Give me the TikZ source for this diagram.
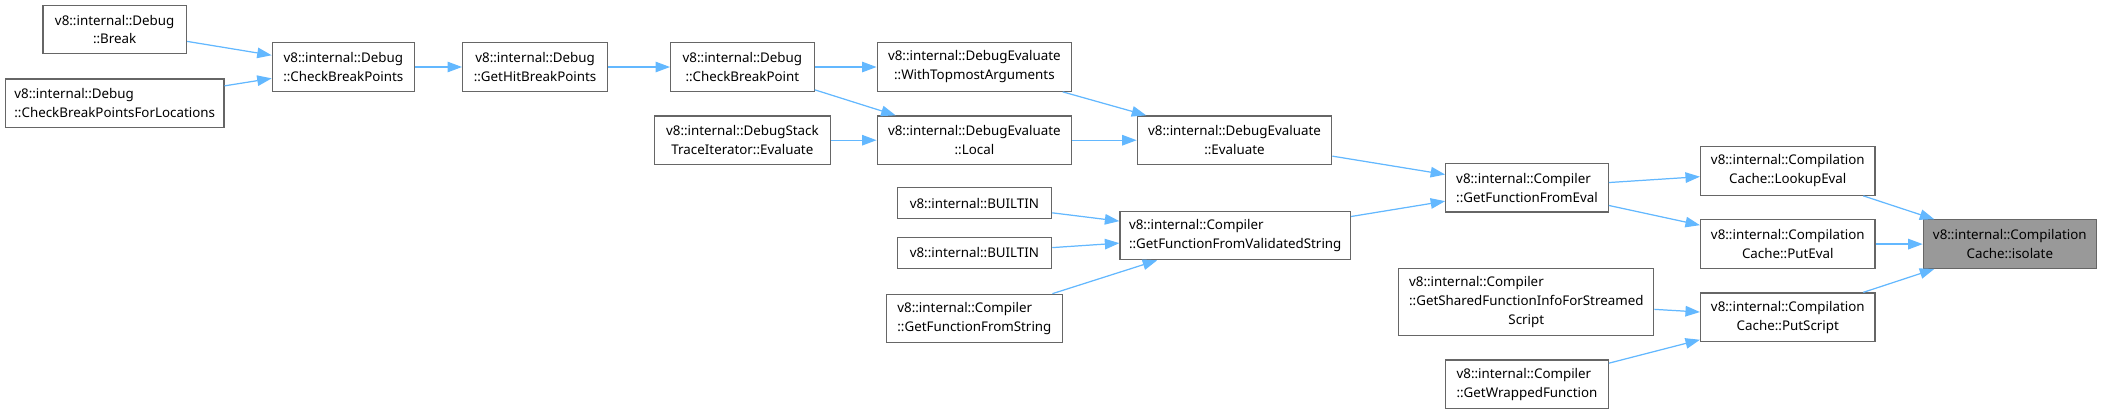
\documentclass[tikz,border=0pt]{standalone}
\usepackage{fontspec}
\setmainfont{Noto Sans}
\usepackage{xcolor}
\usetikzlibrary{arrows.meta}
\definecolor{edgeblue}{HTML}{63B8FF}
\definecolor{boxgray}{HTML}{666666}
\definecolor{hitgray}{HTML}{999999}

\begin{document}
\begin{tikzpicture}[
    x=0.02cm, y=-0.02cm,
    func/.style={draw=boxgray, line width=0.7pt, fill=white, inner sep=0pt, minimum height=0.97cm, align=center, font=\fontsize{7.6}{10.8}\selectfont},
    oneline/.style={func, minimum height=0.62cm},
    threeline/.style={func, minimum height=1.34cm},
    target/.style={func, fill=hitgray},
    arrow/.style={-{Triangle[length=2.9mm, width=2.1mm]}, draw=edgeblue, fill=edgeblue, line width=0.7pt}
]
\useasboundingbox (0,0) rectangle (2103,414);

% Debug callers
\node[func, minimum width=2.87cm] (brk) at (114.7,29.5) {v8::internal::Debug\\::Break};
\node[func, align=left, minimum width=4.37cm] (cbpfl) at (114.7,103.3) {v8::internal::Debug\\::CheckBreakPointsForLocations};
\node[func, minimum width=2.84cm] (cbps) at (343.3,67) {v8::internal::Debug\\::CheckBreakPoints};
\node[func, minimum width=2.9cm] (hitbp) at (535.1,67) {v8::internal::Debug\\::GetHitBreakPoints};
\node[func, minimum width=2.87cm] (cbp) at (742.4,67) {v8::internal::Debug\\::CheckBreakPoint};
\node[func, minimum width=3.51cm] (stackit) at (742.4,140.2) {v8::internal::DebugStack\\TraceIterator::Evaluate};

% DebugEvaluate
\node[func, minimum width=3.89cm] (topmost) at (974.4,67) {v8::internal::DebugEvaluate\\::WithTopmostArguments};
\node[func, minimum width=3.89cm] (local) at (974.4,140.2) {v8::internal::DebugEvaluate\\::Local};
\node[func, minimum width=3.89cm] (evaluate) at (1234.5,140.2) {v8::internal::DebugEvaluate\\::Evaluate};

% Builtins and string compilation
\node[oneline, minimum width=3.09cm] (builtina) at (974.4,203.2) {v8::internal::BUILTIN};
\node[oneline, minimum width=3.09cm] (builtinb) at (974.4,252.8) {v8::internal::BUILTIN};
\node[func, align=left, minimum width=3.51cm] (fromstring) at (974.4,318.5) {v8::internal::Compiler\\::GetFunctionFromString};
\node[func, align=left, minimum width=4.61cm] (validated) at (1235.2,235.4) {v8::internal::Compiler\\::GetFunctionFromValidatedString};

% Compiler
\node[func, align=left, minimum width=3.25cm] (fromeval) at (1527,187.8) {v8::internal::Compiler\\::GetFunctionFromEval};
\node[threeline, align=left, minimum width=5.1cm] (streamed) at (1526.3,301.8) {v8::internal::Compiler\\::GetSharedFunctionInfoForStreamed\\\hfil Script};
\node[func, align=left, minimum width=3.25cm] (wrapped) at (1527,384.2) {v8::internal::Compiler\\::GetWrappedFunction};

% CompilationCache
\node[func, minimum width=3.49cm] (lookup) at (1787.8,171) {v8::internal::Compilation\\Cache::LookupEval};
\node[func, minimum width=3.49cm] (puteval) at (1787.8,244.1) {v8::internal::Compilation\\Cache::PutEval};
\node[func, minimum width=3.49cm] (putscript) at (1787.8,317.2) {v8::internal::Compilation\\Cache::PutScript};
\node[target, minimum width=3.46cm] (isolate) at (2009.8,244.1) {v8::internal::Compilation\\Cache::isolate};

% Calls
\draw[arrow] (brk) -- (cbps);
\draw[arrow] (cbpfl) -- (cbps);
\draw[arrow] (cbps) -- (hitbp);
\draw[arrow] (hitbp) -- (cbp);
\draw[arrow] (cbp) -- (topmost);
\draw[arrow] (cbp) -- (local);
\draw[arrow] (stackit) -- (local);
\draw[arrow] (topmost) -- (evaluate);
\draw[arrow] (local) -- (evaluate);
\draw[arrow] (evaluate) -- (fromeval);
\draw[arrow] (builtina) -- (validated);
\draw[arrow] (builtinb) -- (validated);
\draw[arrow] (fromstring) -- (validated);
\draw[arrow] (validated) -- (fromeval);
\draw[arrow] (fromeval) -- (lookup);
\draw[arrow] (fromeval) -- (puteval);
\draw[arrow] (streamed) -- (putscript);
\draw[arrow] (wrapped) -- (putscript);
\draw[arrow] (lookup) -- (isolate);
\draw[arrow] (puteval) -- (isolate);
\draw[arrow] (putscript) -- (isolate);

\end{tikzpicture}
\end{document}
